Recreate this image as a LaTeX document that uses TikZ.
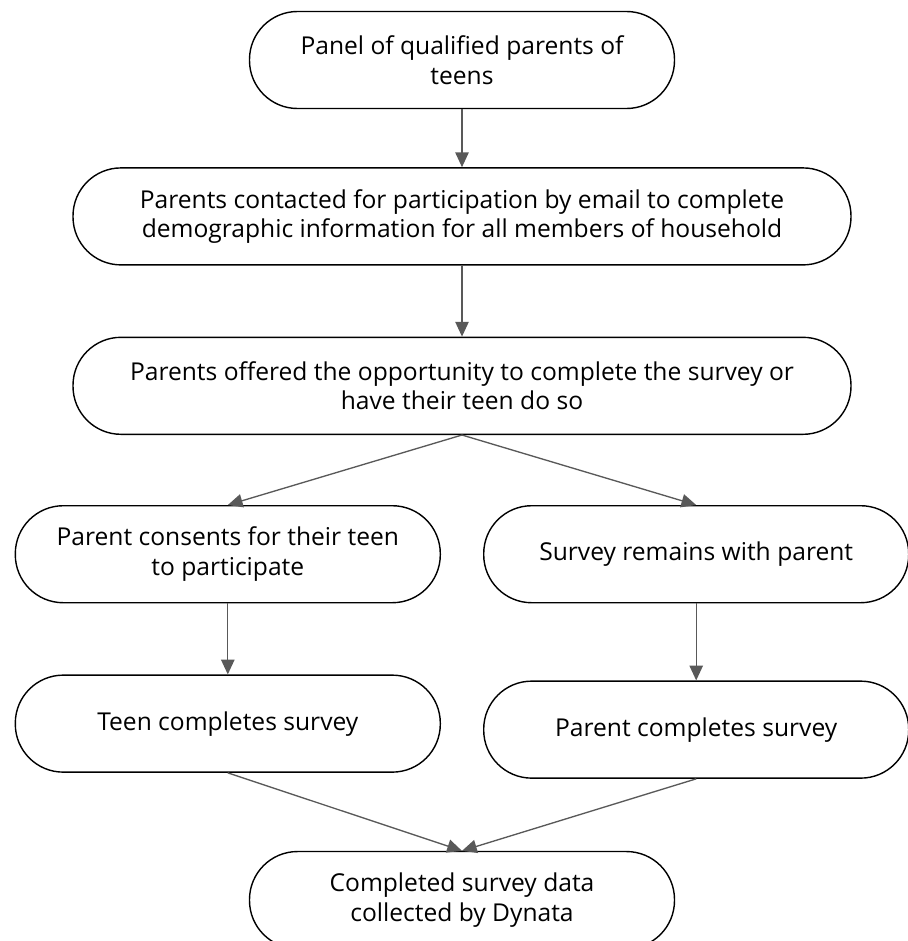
\documentclass[tikz,border=0pt]{standalone}
\usepackage{fontspec}
\usepackage{tikz}
\usetikzlibrary{arrows.meta, positioning, calc}
\newfontfamily\flowfont{Open Sans}

\begin{document}
\begin{tikzpicture}[
        node distance=1.5cm and 1cm,
        pill/.style={rectangle, draw, line width=1pt, rounded corners=1.2cm, minimum width=10.625cm, minimum height=2.425cm, align=center, font=\flowfont\fontsize{17.5}{21}\selectfont},
        wide/.style={minimum width=19.45cm},
        arrow/.style={-{Triangle[length=10.5pt, width=9.5pt]}, line width=0.95pt, draw=black!65}
    ]

        % frame of the page
        \useasboundingbox (0,0) rectangle (22.7,-23.525);

        % 1. Panel and contact
        \node (panel) [pill] at (11.55,-1.5) {Panel of qualified parents of \\ teens};
        \node (contact) [pill, wide, below=1.45cm of panel] {Parents contacted for participation by email to complete \\ demographic information for all members of household};
        \node (offer) [pill, wide, below=1.775cm of contact] {Parents offered the opportunity to complete the survey or \\ have their teen do so};

        % 2. Two branches
        \node (consent) [pill, below left=1.75cm and 0.525cm of offer.south] {Parent consents for their teen \\ to participate};
        \node (remain) [pill, below right=1.75cm and 0.525cm of offer.south] {Survey remains with parent};

        \node (teen) [pill, below=1.775cm of consent] {Teen completes survey};
        \node (parentdone) [pill, below=1.925cm of remain] {Parent completes survey};

        % 3. Data collection
        \node (dynata) [pill, below=1.875cm of $(teen.south)!0.5!(parentdone.south)$] {Completed survey data \\ collected by Dynata};

        % Connections
        \draw [arrow] (panel) -- (contact);
        \draw [arrow] (contact) -- (offer);

        \draw [arrow] (offer.south) -- (consent.north);
        \draw [arrow] (offer.south) -- (remain.north);

        \draw [arrow] (consent) -- (teen);
        \draw [arrow] (remain) -- (parentdone);

        \draw [arrow] (teen.south) -- (dynata.north);
        \draw [arrow] (parentdone.south) -- (dynata.north);

    \end{tikzpicture}
\end{document}
